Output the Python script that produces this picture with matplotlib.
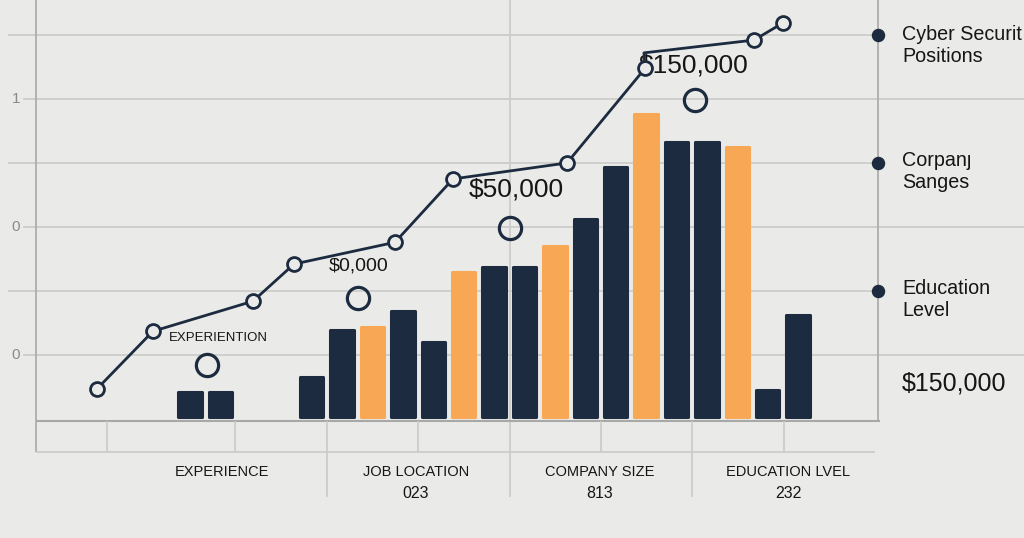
#!/usr/bin/python
""" Salary factors chart: bars plus a rising salary line """
import matplotlib
matplotlib.use('Agg')
import matplotlib.pyplot as plt

plt.rcParams['font.family'] = ['Liberation Sans', 'DejaVu Sans']

NAVY = '#1c2b3f'
ORANGE = '#f8a755'
BG = '#eaeae8'
GRID = '#cacac8'
AXIS = '#a8a8a6'
TEXT = '#161616'

# bars (slot index, height in grid units, colour kind)
bar_slots = [0, 1, 4, 5, 6, 7, 8, 9, 10, 11, 12, 13, 14, 15, 16, 17, 18, 19, 20]
bar_heights = [0.39, 0.39, 0.62, 1.36, 1.41, 1.66, 1.17, 2.27, 2.34, 2.34,
               2.67, 3.09, 3.91, 4.73, 4.30, 4.30, 4.22, 0.42, 1.59]
bar_kind = ['n', 'n', 'n', 'n', 'o', 'n', 'n', 'o', 'n', 'n',
            'o', 'n', 'n', 'o', 'n', 'n', 'o', 'n', 'n']

# salary line
line_x = [-3.06, -1.22, 2.07, 3.42, 6.74, 8.65, 12.40, 14.97, 14.93, 18.55, 19.51]
line_y = [0.44, 1.34, 1.81, 2.39, 2.73, 3.72, 3.97, 5.45, 5.69, 5.89, 6.16]
line_marked = [True, True, True, True, True, True, True, True, False, True, True]

# loose hollow circles
circle_x = [0.56, 5.53, 10.53, 16.61]
circle_y = [0.81, 1.86, 2.95, 4.95]

# text
y_tick_labels = ['1', '0', '0']
categories = ['EXPERIENCE', 'JOB LOCATION', 'COMPANY SIZE', 'EDUCATION LVEL']
category_codes = ['', '023', '813', '232']
side_labels = ['Cyber Securit\nPositions', 'Corpanȷ\nSanges', 'Education\nLevel']
side_value = '$150,000'
annotations = ['EXPERIENTION', '$0,000', '$50,000', '$150,000']


def draw_background(fig):
    bk = fig.add_axes([0, 0, 1, 1])
    bk.set_xlim(0, 1024)
    bk.set_ylim(538, 0)
    bk.axis('off')
    bk.hlines([35, 163, 291], 8, 878, color=GRID, lw=1.2)
    bk.hlines([99, 227, 355], 23, 1024, color=GRID, lw=1.2)
    bk.vlines(36, 0, 452, color=AXIS, lw=1.2)
    bk.vlines(878, 0, 421, color=AXIS, lw=1.2)
    bk.vlines(510, 0, 497, color=GRID, lw=1.2)
    bk.hlines(421, 36, 880, color=AXIS, lw=1.5)
    bk.hlines(452, 36, 875, color=GRID, lw=1.2)
    bk.vlines([107, 235, 418, 601, 784], 421, 452, color=GRID, lw=1.2)
    bk.vlines([327, 692], 421, 497, color=GRID, lw=1.2)

    for y, lab in zip([99, 227, 355], y_tick_labels):
        bk.text(16, y, lab, color='#8a8a8a', fontsize=11, ha='center', va='center')

    for x, cat, code in zip([222, 416, 600, 788], categories, category_codes):
        bk.text(x, 472, cat, color=TEXT, fontsize=10.5, ha='center', va='center')
        if code:
            bk.text(x, 493, code, color=TEXT, fontsize=11.5, ha='center', va='center')

    bk.scatter([878, 878, 878], [35, 163, 291], s=75, color=NAVY, zorder=3)
    for y, lab in zip([45, 172, 300], side_labels):
        bk.text(902, y, lab, color=TEXT, fontsize=14.2, ha='left', va='center',
                linespacing=1.2)
    bk.text(902, 384, side_value, color=TEXT, fontsize=18, ha='left', va='center')

    bk.text(218, 338, annotations[0], color=TEXT, fontsize=9.5, ha='center', va='center')
    bk.text(359, 266, annotations[1], color=TEXT, fontsize=14, ha='center', va='center')
    bk.text(516, 190, annotations[2], color=TEXT, fontsize=19, ha='center', va='center')
    bk.text(639, 66, annotations[3], color=TEXT, fontsize=19, ha='left', va='center')
    return bk


def draw_data(fig):
    ax = fig.add_axes([0, 0, 1, 1])
    ax.patch.set_alpha(0)
    ax.set_xlim(-6.25, 27.43)
    ax.set_ylim(-1.89, 6.516)
    ax.axis('off')

    colors = [NAVY if k == 'n' else ORANGE for k in bar_kind]
    ax.bar(bar_slots, bar_heights, width=0.77, color=colors, edgecolor=colors,
           linewidth=2.2, joinstyle='round', zorder=2)

    ax.plot(line_x, line_y, color=NAVY, lw=2.0, zorder=3)
    mx = [x for x, m in zip(line_x, line_marked) if m]
    my = [y for y, m in zip(line_y, line_marked) if m]
    ax.plot(mx, my, 'o', ms=10, mfc=BG, mec=NAVY, mew=2.0, zorder=4)

    ax.plot(circle_x, circle_y, 'o', ms=16, mfc='none', mec=NAVY, mew=2.3, zorder=4)
    return ax


if __name__ == '__main__':
    fig = plt.figure(figsize=(10.24, 5.38), dpi=100, facecolor=BG)
    draw_background(fig)
    draw_data(fig)
    fig.savefig('out.png', dpi=100, facecolor=BG)
